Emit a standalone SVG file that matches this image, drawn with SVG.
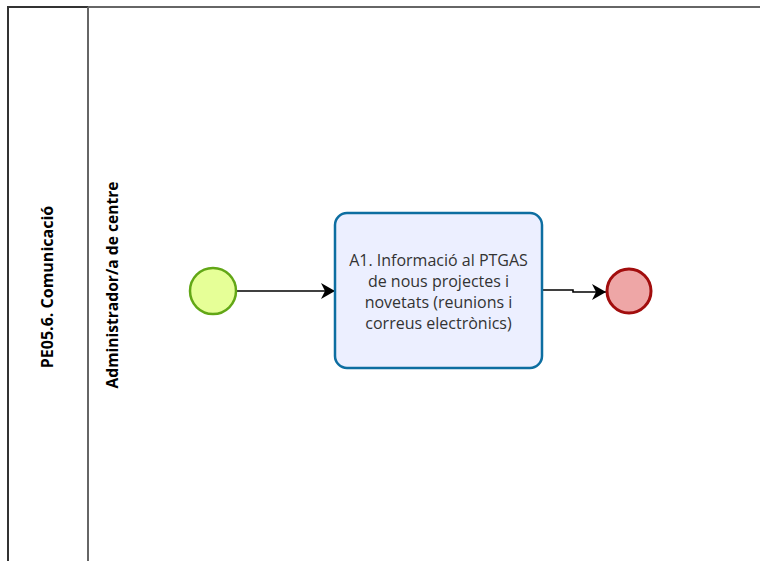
<svg xmlns="http://www.w3.org/2000/svg" width="760" height="561" viewBox="0 0 760 561">
<style>
.lbl{font-family:"Open Sans","Noto Sans",sans-serif;font-weight:bold;fill:#000;text-anchor:middle}
.tt{font-family:"Open Sans","Noto Sans",sans-serif;font-size:16px;fill:#333;text-anchor:middle}
.flow{fill:none;stroke:#000;stroke-width:1.6}
</style>
<defs>
<marker id="arr" markerWidth="16" markerHeight="16" refX="14" refY="8" orient="auto" markerUnits="userSpaceOnUse">
<path d="M0,0 L14,8 L0,16 L4,8 Z" fill="#000"/>
</marker>
</defs>
<rect width="760" height="561" fill="#fff"/>
<g id="pool">
<line x1="88" y1="7" x2="760" y2="7" stroke="#666" stroke-width="2"/>
<line x1="8" y1="7" x2="88" y2="7" stroke="#333" stroke-width="2"/>
<line x1="8" y1="6" x2="8" y2="561" stroke="#333" stroke-width="2"/>
<text class="lbl" font-size="16" transform="translate(53,287) rotate(-90)">PE05.6. Comunicació</text>
</g>
<g id="lane">
<line x1="88" y1="7" x2="88" y2="561" stroke="#666" stroke-width="2"/>
<text class="lbl" font-size="15.6" transform="translate(118,285) rotate(-90)">Administrador/a de centre</text>
</g>
<g id="connectors">
<path class="flow" d="M237,291 L335,291" marker-end="url(#arr)"/>
<path class="flow" d="M542,290 L573,290 L573,292 L606,292" marker-end="url(#arr)"/>
</g>
<g id="start">
<circle cx="213" cy="291" r="23" fill="#e6ff97" stroke="#62a716" stroke-width="2.5"/>
</g>
<g id="task">
<rect x="335" y="213" width="207" height="155" rx="12" fill="#ecefff" stroke="#0d6ea1" stroke-width="2.5"/>
<text class="tt"><tspan x="438.5" y="266">A1. Informació al PTGAS</tspan><tspan x="438.5" y="287">de nous projectes i</tspan><tspan x="438.5" y="308">novetats (reunions i</tspan><tspan x="438.5" y="329">correus electrònics)</tspan></text>
</g>
<g id="end">
<circle cx="629" cy="291" r="22" fill="#eea6a6" stroke="#a20d0d" stroke-width="3"/>
</g>
</svg>
